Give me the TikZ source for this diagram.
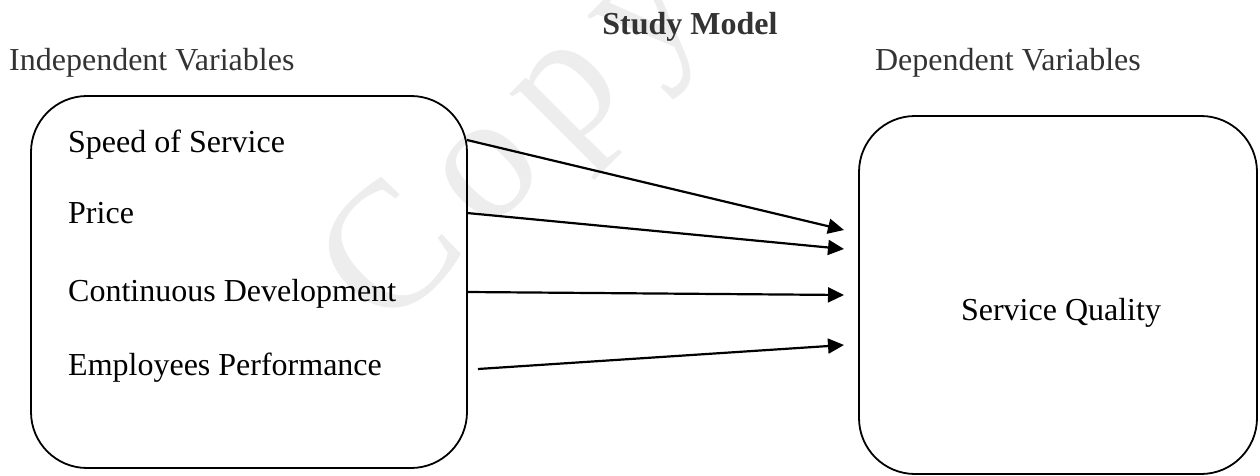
\documentclass[tikz,border=0pt]{standalone}
\usepackage{fontspec}
\setmainfont{Liberation Serif}
\usetikzlibrary{arrows.meta}
\begin{document}
\begin{tikzpicture}[x=1pt,y=-1pt,
  roundbox/.style={draw=black, line width=1.8pt, rounded corners=56pt,
    inner sep=0pt, fill=none},
  label/.style={inner sep=0pt, anchor=base west, text=black,
    font=\fontsize{32}{38}\selectfont},
  heading/.style={inner sep=0pt, text=black!80,
    font=\fontsize{32}{38}\selectfont},
  link/.style={line width=2.2pt, -{Triangle[length=16pt,width=15pt]}}]
\useasboundingbox (0,0) rectangle (1260,476);

% faint watermark behind the diagram
\node[text=black!7, rotate=45, inner sep=0pt,
  font=\fontsize{180}{180}\selectfont\addfontfeature{LetterSpace=12}]
  (wm) at (519,145) {Copy};

% title and column headings
\node[heading, font=\fontsize{32}{38}\selectfont\bfseries, anchor=base]
  (title) at (690,35) {Study Model};
\node[heading, anchor=base west] (indep) at (9,71) {Independent Variables};
\node[heading, anchor=base east] (dep) at (1141,71) {Dependent Variables};

% the two boxes
\node[roundbox, minimum width=436pt, minimum height=372pt] (L) at (249,282) {};
\node[roundbox, minimum width=398pt, minimum height=358pt] (R) at (1058,295) {};

% independent variables
\node[label] (speed) at (68,152) {Speed of Service};
\node[label] (price) at (68,223) {Price};
\node[label] (cont)  at (68,301) {Continuous Development};
\node[label] (emp)   at (68,375) {Employees Performance};

% dependent variable
\node[label, anchor=base] (sq) at (1061,320) {Service Quality};

% arrow end points
\coordinate (s1) at (467,140);
\coordinate (s2) at (467,213);
\coordinate (s3) at (467,292);
\coordinate (s4) at (478,369);
\coordinate (t1) at (844,230);
\coordinate (t2) at (844,249);
\coordinate (t3) at (844,295);
\coordinate (t4) at (844,345);

\draw[link] (s1) -- (t1);
\draw[link] (s2) -- (t2);
\draw[link] (s3) -- (t3);
\draw[link] (s4) -- (t4);
\end{tikzpicture}
\end{document}
